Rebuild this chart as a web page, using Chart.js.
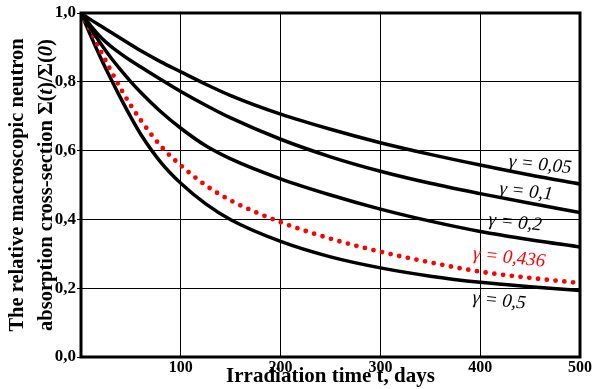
<!DOCTYPE html>
<html>
<head>
<meta charset="utf-8">
<script src="https://cdn.jsdelivr.net/npm/chart.js@4/dist/chart.umd.min.js"></script>
<style>
    html, body { margin: 0; padding: 0; background: #fff; }
    .wrap { width: 593px; height: 389px; }
</style>
</head>
<body>
<div class="wrap"><canvas id="chart" width="593" height="389"></canvas></div>
<script>
// --- Data ---
const days = [0, 10, 20, 30, 40, 50, 60, 80, 100, 125, 150, 200, 250, 300, 350, 400, 450, 500];
const gamma005 = [1.0, 0.98, 0.962, 0.944, 0.926, 0.908, 0.89, 0.858, 0.829, 0.793, 0.76, 0.706, 0.662, 0.623, 0.589, 0.558, 0.529, 0.503];
const gamma01 = [1.0, 0.962, 0.929, 0.903, 0.881, 0.861, 0.843, 0.807, 0.772, 0.732, 0.695, 0.633, 0.582, 0.54, 0.505, 0.475, 0.447, 0.42];
const gamma02 = [1.0, 0.953, 0.91, 0.87, 0.834, 0.8, 0.769, 0.713, 0.665, 0.614, 0.576, 0.518, 0.471, 0.43, 0.395, 0.365, 0.341, 0.32];
const gamma0436 = [1.0, 0.947, 0.888, 0.832, 0.779, 0.731, 0.688, 0.613, 0.557, 0.499, 0.455, 0.392, 0.344, 0.306, 0.275, 0.248, 0.23, 0.215];
const gamma05 = [1.0, 0.932, 0.868, 0.808, 0.751, 0.697, 0.647, 0.566, 0.505, 0.445, 0.399, 0.336, 0.291, 0.259, 0.235, 0.217, 0.204, 0.193];

const xTicks = [100, 200, 300, 400, 500];
const yTicks = [0, 0.2, 0.4, 0.6, 0.8, 1.0];

// curve labels: text, anchor point in data units, colour
const curveLabels = [
    { text: 'γ = 0,05', x: 460, y: 0.558, color: '#000' },
    { text: 'γ = 0,1', x: 446, y: 0.480, color: '#000' },
    { text: 'γ = 0,2', x: 435, y: 0.390, color: '#000' },
    { text: 'γ = 0,436', x: 429, y: 0.288, color: '#f00' },
    { text: 'γ = 0,5', x: 419, y: 0.163, color: '#000' }
];

const serif = '"Liberation Serif", "Times New Roman", serif';

const toPoints = arr => arr.map((v, i) => ({ x: days[i], y: v }));

const blackLine = (label, arr) => ({
    label: label,
    data: toPoints(arr),
    borderColor: '#000',
    borderWidth: 3.5,
    pointRadius: 0,
    cubicInterpolationMode: 'monotone',
    fill: false
});

// --- Frame, axis titles and curve labels ---
const decorPlugin = {
    id: 'decor',
    afterDatasetsDraw(chart) {
        const ctx = chart.ctx;
        const a = chart.chartArea;
        const xs = chart.scales.x;
        const ys = chart.scales.y;

        // curve labels
        ctx.save();
        ctx.font = 'italic 19px ' + serif;
        ctx.textAlign = 'center';
        ctx.textBaseline = 'middle';
        curveLabels.forEach(l => {
            ctx.save();
            ctx.translate(xs.getPixelForValue(l.x), ys.getPixelForValue(l.y));
            ctx.rotate(6 * Math.PI / 180);
            ctx.fillStyle = l.color;
            ctx.fillText(l.text, 0, 0);
            ctx.restore();
        });
        ctx.restore();

        // thick frame
        ctx.save();
        ctx.strokeStyle = '#000';
        ctx.lineWidth = 3;
        ctx.strokeRect(a.left, a.top, a.right - a.left, a.bottom - a.top);
        ctx.restore();

        // x axis title
        ctx.save();
        ctx.font = 'bold 21px ' + serif;
        ctx.fillStyle = '#000';
        ctx.textAlign = 'center';
        ctx.textBaseline = 'middle';
        ctx.fillText('Irradiation time t, days', (a.left + a.right) / 2, 377);
        ctx.restore();

        // y axis title, two lines, with italic parts
        const midY = (a.top + a.bottom) / 2;
        drawRotated(ctx, [{ t: 'The relative macroscopic neutron', i: false }], 18, midY);
        drawRotated(ctx, [
            { t: 'absorption cross-section Σ(', i: false },
            { t: 't', i: true },
            { t: ')/Σ(', i: false },
            { t: '0', i: true },
            { t: ')', i: false }
        ], 47, midY);
    }
};

function drawRotated(ctx, parts, x, y) {
    ctx.save();
    ctx.fillStyle = '#000';
    ctx.textBaseline = 'middle';
    ctx.textAlign = 'left';
    const fontOf = p => (p.i ? 'italic bold ' : 'bold ') + '20.5px ' + serif;
    let total = 0;
    parts.forEach(p => {
        ctx.font = fontOf(p);
        p.w = ctx.measureText(p.t).width;
        total += p.w;
    });
    ctx.translate(x, y);
    ctx.rotate(-Math.PI / 2);
    let pos = -total / 2;
    parts.forEach(p => {
        ctx.font = fontOf(p);
        ctx.fillText(p.t, pos, 0);
        pos += p.w;
    });
    ctx.restore();
}

new Chart(document.getElementById('chart'), {
    type: 'line',
    data: {
        datasets: [
            blackLine('γ = 0,05', gamma005),
            blackLine('γ = 0,1', gamma01),
            blackLine('γ = 0,2', gamma02),
            {
                label: 'γ = 0,436',
                data: toPoints(gamma0436),
                borderColor: '#f00',
                borderWidth: 4.8,
                borderDash: [0, 8.8],
                borderCapStyle: 'round',
                pointRadius: 0,
                cubicInterpolationMode: 'monotone',
                fill: false
            },
            blackLine('γ = 0,5', gamma05)
        ]
    },
    options: {
        responsive: false,
        animation: false,
        layout: { padding: { top: 13, right: 13, left: 0, bottom: 0 } },
        plugins: {
            legend: { display: false },
            tooltip: { enabled: false }
        },
        scales: {
            x: {
                type: 'linear',
                min: 0,
                max: 500,
                afterFit: s => { s.height = 32; },
                afterBuildTicks: s => { s.ticks = xTicks.map(v => ({ value: v })); },
                border: { display: false },
                grid: { color: '#000', lineWidth: 1, drawTicks: false },
                ticks: {
                    padding: 1,
                    color: '#000',
                    font: { family: serif, size: 16, weight: 'bold' },
                    maxRotation: 0
                }
            },
            y: {
                min: 0,
                max: 1,
                afterFit: s => { s.width = 81; },
                afterBuildTicks: s => { s.ticks = yTicks.map(v => ({ value: v })); },
                border: { display: false },
                grid: { color: '#000', lineWidth: 1, tickLength: 4 },
                ticks: {
                    padding: 1,
                    color: '#000',
                    font: { family: serif, size: 17, weight: 'bold' },
                    callback: v => v.toFixed(1).replace('.', ',')
                }
            }
        }
    },
    plugins: [decorPlugin]
});
</script>
</body>
</html>
